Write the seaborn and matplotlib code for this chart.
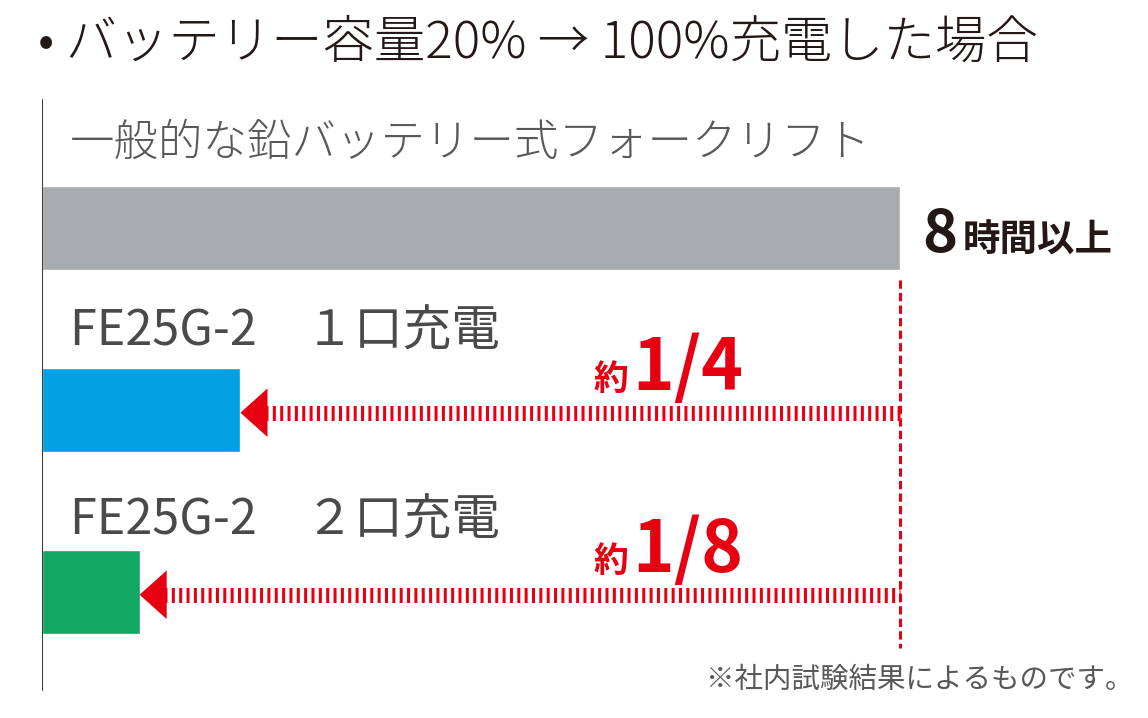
import matplotlib
matplotlib.use("Agg")
import matplotlib.pyplot as plt
import seaborn as sns

# データ（充電時間・時間）
categories = ["一般的な鉛バッテリー式フォークリフト", "FE25G-2　１口充電", "FE25G-2　２口充電"]
hours = [8, 1.85, 0.91]
ratio_labels = ["", "1/4", "1/8"]
bar_colors = ["#a8abad", "#00a0e2", "#10a862"]

RED = "#e60012"
DARK = "#231815"
GRAY_TXT = "#595757"

sns.set_theme(style="white")
plt.rcParams["font.family"] = ["Noto Sans CJK JP", "DejaVu Sans"]

fig = plt.figure(figsize=(11.48, 7.18), dpi=100)
ax = fig.add_axes([42 / 1148, 0, 1 - 42 / 1148, 1])

sns.barplot(x=hours, y=categories, hue=categories, palette=bar_colors,
            orient="h", width=0.46, legend=False, saturation=1, ax=ax)

# 1 hour = 858/8 px
xmax = hours[0] * 1106 / 858
ax.set_xlim(0, xmax)
ax.set_ylim(-1.2527 + 718 / 182, -1.2527)
ax.axis("off")

# 縦の軸線
ax.axvline(0, ymin=28 / 718, ymax=618 / 718, color="#3e3a39", lw=1.5, zorder=5)

# カテゴリラベル
label_dy = [-0.467, -0.43, -0.39]
label_size = [32, 35, 35]
label_weight = ["light", "normal", "normal"]
for i, name in enumerate(categories):
    ax.text(0.26, i + label_dy[i], name, fontsize=label_size[i],
            fontweight=label_weight[i],
            color=GRAY_TXT if i == 0 else "#4a4a4a", va="center", ha="left")

# 8時間以上
ax.text(hours[0] + 0.205, 0.132, "8", fontsize=43, fontweight="bold",
        color=DARK, ha="left", va="baseline")
ax.text(hours[0] + 0.587, 0.132, "時間以上", fontsize=27, fontweight="bold",
        color=DARK, ha="left", va="baseline")

# 赤い縦破線
ax.plot([hours[0], hours[0]], [0.2857, 2.308], color=RED, lw=2.2,
        dashes=(2.7, 1.4), zorder=3)

# 矢印
head = 0.25
for i in range(1, len(hours)):
    y = i + 0.015
    v = hours[i]
    ax.plot([v + head - 0.02, hours[0]], [y, y], color=RED, lw=10.8,
            dashes=(0.2, 0.29), solid_capstyle="butt", zorder=3)
    ax.annotate("", xy=(v, y), xytext=(v + head, y),
                arrowprops=dict(arrowstyle="-|>,head_length=19.5,head_width=17.5",
                                mutation_scale=1, fc=RED, ec=RED, lw=0,
                                shrinkA=0, shrinkB=0), zorder=4)
    ax.text(5.464, y - 0.125, "約", fontsize=25, fontweight="bold",
            color=RED, ha="right", va="baseline")
    ax.text(5.501, y - 0.125, ratio_labels[i], fontsize=51, fontweight="bold",
            color=RED, ha="left", va="baseline")

# タイトル・注記
fig.text(38 / 1148, 1 - 43 / 718, "• バッテリー容量20% → 100%充電した場合",
         fontsize=37, color=DARK, ha="left", va="center", fontweight="light")
fig.text(1134 / 1148, 1 - 680 / 718, "※社内試験結果によるものです。",
         fontsize=20.5, color=GRAY_TXT, ha="right", va="center")

fig.savefig("out.png", dpi=100, facecolor="white")
